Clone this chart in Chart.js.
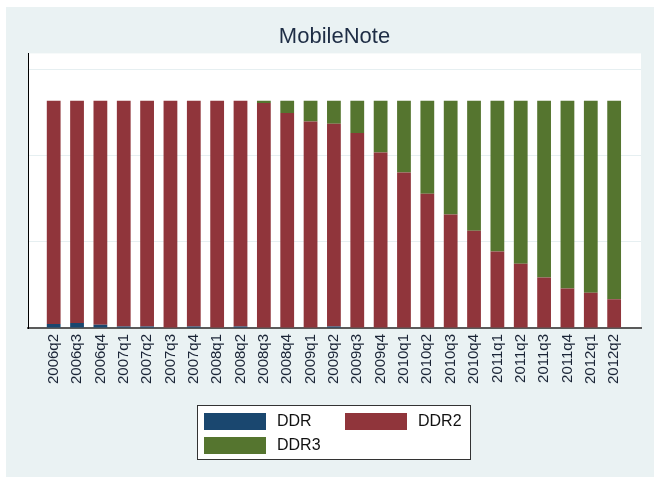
<!DOCTYPE html>
<html>
<head>
<meta charset="utf-8">
<script src="https://cdn.jsdelivr.net/npm/chart.js@4.4.1/dist/chart.umd.min.js"></script>
<style>
  html, body { margin: 0; padding: 0; background: #fff; }
  canvas { display: block; }
</style>
</head>
<body>
<canvas id="memChart" width="654" height="477"></canvas>
<script>
const quarters = ['2006q2', '2006q3', '2006q4', '2007q1', '2007q2', '2007q3', '2007q4',
  '2008q1', '2008q2', '2008q3', '2008q4', '2009q1', '2009q2', '2009q3', '2009q4',
  '2010q1', '2010q2', '2010q3', '2010q4', '2011q1', '2011q2', '2011q3', '2011q4',
  '2012q1', '2012q2'];

// shares in percent
const ddr = [1.8, 2.2, 1.4, 0.7, 0.7, 0, 0.7, 0, 0.7, 0, 0, 0, 0.7, 0, 0,
  0, 0, 0, 0, 0, 0, 0, 0, 0, 0];
const ddr2 = [98.2, 97.8, 98.6, 99.3, 99.3, 100, 99.3, 100, 99.3, 99.0, 94.6, 90.8, 89.1, 85.8, 77.2,
  68.4, 59.1, 49.9, 42.8, 33.7, 28.3, 22.2, 17.4, 15.5, 12.6];
const ddr3 = [0, 0, 0, 0, 0, 0, 0, 0, 0, 1.0, 5.4, 9.2, 10.2, 14.2, 22.8,
  31.6, 40.9, 50.1, 57.2, 66.3, 71.7, 77.8, 82.6, 84.5, 87.4];

const yMax = 120.8;
const gridStep = 37.87;

const toPoints = arr => arr.map((v, i) => ({ x: i, y: v }));

const bgPlugin = {
  id: 'bg',
  beforeDraw(chart) {
    const { ctx, chartArea: a } = chart;
    ctx.save();
    ctx.fillStyle = '#ffffff';
    ctx.fillRect(0, 0, chart.width, chart.height);
    ctx.fillStyle = '#eaf2f3';
    ctx.fillRect(6, 7, chart.width - 6, chart.height - 7);
    ctx.fillStyle = '#ffffff';
    ctx.fillRect(a.left, a.top, a.right - a.left, a.bottom - a.top);
    ctx.restore();
  }
};

// Stata style boxed legend, two columns
const legendPlugin = {
  id: 'boxLegend',
  afterDraw(chart) {
    const ctx = chart.ctx;
    const a = chart.chartArea;
    const cx = (a.left + a.right) / 2;
    const boxW = 273, boxH = 54;
    const bx = Math.round(cx - boxW / 2) - 1, by = 405;
    ctx.save();
    ctx.fillStyle = '#ffffff';
    ctx.fillRect(bx, by, boxW, boxH);
    ctx.strokeStyle = '#333333';
    ctx.lineWidth = 1;
    ctx.strokeRect(bx + 0.5, by + 0.5, boxW, boxH);
    ctx.font = '16px "Liberation Sans", Arial, sans-serif';
    ctx.textBaseline = 'middle';
    chart.data.datasets.forEach((ds, i) => {
      const col = i % 2, row = Math.floor(i / 2);
      const sx = bx + 7 + col * 141;
      const sy = by + 8 + row * 24;
      ctx.fillStyle = ds.backgroundColor;
      ctx.fillRect(sx, sy, 62, 17);
      ctx.fillStyle = '#111111';
      ctx.fillText(ds.label, sx + 73, sy + 9);
    });
    ctx.restore();
  }
};

new Chart(document.getElementById('memChart'), {
  type: 'bar',
  data: {
    datasets: [
      { label: 'DDR', data: toPoints(ddr), backgroundColor: '#1a476f' },
      { label: 'DDR2', data: toPoints(ddr2), backgroundColor: '#90353b' },
      { label: 'DDR3', data: toPoints(ddr3), backgroundColor: '#55752f' }
    ]
  },
  options: {
    responsive: false,
    animation: false,
    devicePixelRatio: 1,
    layout: { padding: { left: 28, right: 13, top: 0, bottom: 0 } },
    datasets: { bar: { barPercentage: 0.59, categoryPercentage: 1 } },
    scales: {
      x: {
        type: 'linear',
        stacked: true,
        offset: false,
        min: -1.1,
        max: 25.15,
        afterBuildTicks: s => { s.ticks = quarters.map((q, i) => ({ value: i })); },
        afterFit: s => { s.height = 149; },
        grid: { display: false, drawTicks: false, offset: false },
        border: { display: true, color: '#5a5a5a', width: 2 },
        ticks: {
          autoSkip: false,
          minRotation: 90,
          maxRotation: 90,
          padding: 6,
          color: '#1a2436',
          font: { family: '"Liberation Sans", Arial, sans-serif', size: 15 },
          callback: v => quarters[v]
        }
      },
      y: {
        stacked: true,
        min: 0,
        max: yMax,
        afterBuildTicks: s => { s.ticks = [0, 1, 2, 3].map(k => ({ value: k * gridStep })); },
        afterFit: s => { s.width = 0; },
        grid: { color: '#e6eff1', lineWidth: 1, drawTicks: false },
        border: { display: true, color: '#000000', width: 1 },
        ticks: { display: false }
      }
    },
    plugins: {
      legend: { display: false },
      tooltip: { enabled: false },
      title: {
        display: true,
        text: 'MobileNote',
        color: '#1e2d45',
        font: { family: '"Liberation Sans", Arial, sans-serif', size: 22, weight: 'normal' },
        padding: { top: 24, bottom: 3 }
      }
    }
  },
  plugins: [bgPlugin, legendPlugin]
});
</script>
</body>
</html>
